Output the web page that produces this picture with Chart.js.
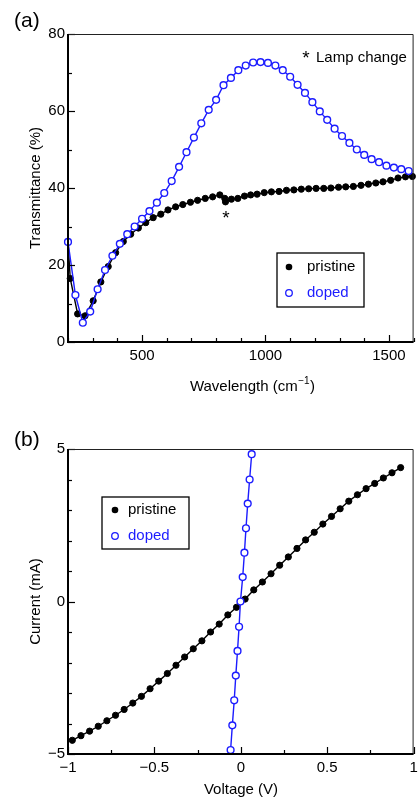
<!DOCTYPE html>
<html>
<head>
<meta charset="utf-8">
<script src="https://cdn.jsdelivr.net/npm/chart.js@4.4.1/dist/chart.umd.min.js"></script>
<style>
  html, body { margin: 0; padding: 0; background: #fff; }
  canvas { display: block; }
</style>
</head>
<body>
<canvas id="spectrum" width="419" height="400"></canvas>
<canvas id="iv" width="419" height="399"></canvas>
<script>
// ---- (a) transmittance spectra ----
const pristineWavelength = [200, 209, 239, 269, 302, 333, 363, 393, 424, 454, 485, 515, 545, 576, 605, 636, 665, 696, 725, 756,
  786, 815, 835, 838, 862, 888, 915, 940, 966, 995, 1024, 1055, 1085, 1115, 1145, 1175, 1205, 1236, 1265, 1296,
  1325, 1356, 1387, 1417, 1447, 1476, 1507, 1537, 1567, 1595];
const pristineTransmittance = [26.0, 16.5, 7.3, 6.8, 10.7, 15.6, 19.6, 23.2, 26.1, 28.0, 29.6, 31.0, 32.3, 33.2, 34.3, 35.1, 35.7, 36.3, 36.8, 37.3,
  37.7, 38.2, 37.3, 36.4, 37.1, 37.3, 37.9, 38.2, 38.4, 38.8, 39.0, 39.1, 39.4, 39.5, 39.7, 39.8, 39.9, 39.9, 40.0, 40.2,
  40.3, 40.4, 40.7, 41.0, 41.3, 41.6, 42.0, 42.6, 42.9, 43.0];

const dopedWavelength = [200, 230, 260, 290, 320, 350, 380, 410, 440, 470, 500, 530, 560, 590, 620, 650, 680, 710, 740, 770,
  800, 830, 860, 890, 920, 950, 980, 1010, 1040, 1070, 1100, 1130, 1160, 1190, 1220, 1250, 1280, 1310, 1340, 1370,
  1400, 1430, 1460, 1490, 1520, 1550, 1580];
const dopedTransmittance = [26.0, 12.2, 5.0, 7.9, 13.7, 18.7, 22.4, 25.5, 28.0, 30.0, 32.0, 34.0, 36.2, 38.7, 41.8, 45.5, 49.3, 53.1, 56.8, 60.3,
  62.9, 66.7, 68.6, 70.6, 71.8, 72.6, 72.7, 72.5, 71.8, 70.6, 68.9, 66.8, 64.7, 62.3, 59.9, 57.7, 55.4, 53.5, 51.7, 50.0,
  48.6, 47.5, 46.7, 45.8, 45.3, 44.9, 44.4];

const lampChangeAt = [840, 33.4];   // where the "*" marker sits
const spectrumXMajor = [500, 1000, 1500];
const spectrumYMajor = [0, 20, 40, 60, 80];

// ---- (b) current-voltage ----
const pristineVoltage = [-0.975, -0.925, -0.875, -0.825, -0.775, -0.725, -0.675, -0.625, -0.575, -0.525, -0.475, -0.425, -0.375,
  -0.325, -0.275, -0.225, -0.175, -0.125, -0.075, -0.025, 0.025, 0.075, 0.125, 0.175, 0.225, 0.275, 0.325,
  0.375, 0.425, 0.475, 0.525, 0.575, 0.625, 0.675, 0.725, 0.775, 0.825, 0.875, 0.925];
const pristineCurrent = [-4.55, -4.40, -4.25, -4.09, -3.91, -3.73, -3.54, -3.33, -3.11, -2.86, -2.61, -2.36, -2.09,
  -1.82, -1.55, -1.29, -1.00, -0.74, -0.44, -0.19, 0.08, 0.38, 0.64, 0.91, 1.19, 1.46, 1.74,
  2.02, 2.27, 2.54, 2.79, 3.04, 3.29, 3.50, 3.70, 3.87, 4.05, 4.22, 4.39];

const dopedVoltage = [-0.059, -0.049, -0.038, -0.029, -0.019, -0.010, -0.002, 0.011, 0.021, 0.030, 0.040, 0.051, 0.063];
const dopedCurrent = [-4.87, -4.06, -3.24, -2.43, -1.62, -0.83, 0.0, 0.80, 1.60, 2.40, 3.21, 4.00, 4.83];

const ivXMajor = [-1, -0.5, 0, 0.5, 1];
const ivYMajor = [-5, 0, 5];

const FONT = "'Liberation Sans', Arial, Helvetica, sans-serif";
const BLUE = '#1c1cff';
Chart.defaults.font.family = FONT;
Chart.defaults.font.size = 15;
Chart.defaults.color = '#000';

const pairs = (xs, ys) => xs.map((x, i) => ({ x, y: ys[i] }));
const fmt = majors => v => majors.includes(v) ? String(v).replace('-', '\u2212') : '';

function txt(ctx, s, x, y, o = {}) {
  ctx.save();
  ctx.font = `${o.size || 15}px ${FONT}`;
  ctx.fillStyle = o.color || '#000';
  ctx.textAlign = o.align || 'left';
  ctx.textBaseline = o.baseline || 'alphabetic';
  if (o.rotate) {
    ctx.translate(x, y);
    ctx.rotate(o.rotate);
    ctx.fillText(s, 0, 0);
  } else {
    ctx.fillText(s, x, y);
  }
  ctx.restore();
}

function drawLegend(ctx, box, sym, textX, rows) {
  ctx.save();
  ctx.fillStyle = '#fff';
  ctx.fillRect(box[0], box[1], box[2] - box[0], box[3] - box[1]);
  ctx.strokeStyle = '#000';
  ctx.lineWidth = 1.3;
  ctx.strokeRect(box[0], box[1], box[2] - box[0], box[3] - box[1]);
  rows.forEach(r => {
    ctx.beginPath();
    ctx.arc(sym, r.y, 3.3, 0, Math.PI * 2);
    if (r.filled) {
      ctx.fillStyle = '#000';
      ctx.fill();
    } else {
      ctx.fillStyle = '#fff';
      ctx.fill();
      ctx.strokeStyle = BLUE;
      ctx.lineWidth = 1.3;
      ctx.stroke();
    }
    txt(ctx, r.label, textX, r.y, { color: r.color, baseline: 'middle' });
  });
  ctx.restore();
}

// ticks point into the plot, frame drawn by hand
const frameTicks = {
  id: 'frameTicks',
  afterDatasetsDraw(chart, args, opts) {
    const { ctx, chartArea: a, scales: { x, y } } = chart;
    ctx.save();
    ctx.strokeStyle = '#000';
    ctx.lineWidth = 1.2;
    x.ticks.forEach(t => {
      const px = Math.round(x.getPixelForValue(t.value)) + 0.5;
      const len = opts.xMajor.includes(t.value) ? 7 : 4;
      ctx.beginPath();
      ctx.moveTo(px, a.bottom);
      ctx.lineTo(px, a.bottom - len);
      ctx.stroke();
    });
    y.ticks.forEach(t => {
      const py = Math.round(y.getPixelForValue(t.value)) + 0.5;
      const len = opts.yMajor.includes(t.value) ? 7 : 4;
      ctx.beginPath();
      ctx.moveTo(a.left, py);
      ctx.lineTo(a.left + len, py);
      ctx.stroke();
    });
    // top / right thin
    ctx.strokeStyle = '#222';
    ctx.lineWidth = 1;
    ctx.beginPath();
    ctx.moveTo(a.left, a.top + 0.5);
    ctx.lineTo(a.right - 0.5, a.top + 0.5);
    ctx.lineTo(a.right - 0.5, a.bottom);
    ctx.stroke();
    // left / bottom heavy
    ctx.strokeStyle = '#000';
    ctx.lineWidth = 2;
    ctx.beginPath();
    ctx.moveTo(a.left, a.top);
    ctx.lineTo(a.left, a.bottom);
    ctx.lineTo(a.right, a.bottom);
    ctx.stroke();
    ctx.restore();
  }
};

function baseOptions(xr, yr, xStep, yStep, xMajor, yMajor, padTop, xHeight) {
  return {
    responsive: false,
    animation: false,
    layout: { padding: { top: padTop, right: 1, left: 0, bottom: 0 } },
    plugins: {
      legend: { display: false },
      tooltip: { enabled: false },
      frameTicks: { xMajor, yMajor }
    },
    scales: {
      x: {
        type: 'linear', min: xr[0], max: xr[1],
        grid: { display: false, drawTicks: false },
        border: { display: false },
        ticks: { stepSize: xStep, autoSkip: false, maxRotation: 0, padding: 5, callback: fmt(xMajor) },
        afterFit: s => { s.height = xHeight; s.paddingLeft = 0; s.paddingRight = 0; }
      },
      y: {
        type: 'linear', min: yr[0], max: yr[1],
        grid: { display: false, drawTicks: false },
        border: { display: false },
        ticks: { stepSize: yStep, autoSkip: false, padding: 3, callback: fmt(yMajor) },
        afterFit: s => { s.width = 68; s.paddingTop = 0; s.paddingBottom = 0; }
      }
    }
  };
}

const dopedStyle = {
  showLine: true, borderColor: BLUE, borderWidth: 1.4, tension: 0,
  pointRadius: 3.4, pointBorderWidth: 1.4, pointBackgroundColor: '#fff', pointBorderColor: BLUE, clip: false
};
const pristineStyle = {
  showLine: true, borderColor: '#000', borderWidth: 1.4, tension: 0,
  pointRadius: 3.1, pointBorderWidth: 1, pointBackgroundColor: '#000', pointBorderColor: '#000', clip: false
};

// ---- chart (a) ----
new Chart(document.getElementById('spectrum'), {
  type: 'scatter',
  data: {
    datasets: [
      { label: 'doped', data: pairs(dopedWavelength, dopedTransmittance), ...dopedStyle },
      { label: 'pristine', data: pairs(pristineWavelength, pristineTransmittance), ...pristineStyle }
    ]
  },
  options: baseOptions([200, 1600], [0, 80], 100, 10, spectrumXMajor, spectrumYMajor, 34, 58),
  plugins: [frameTicks, {
    id: 'spectrumText',
    afterDraw(chart) {
      const { ctx, chartArea: a, scales: { x, y } } = chart;
      txt(ctx, '(a)', 14, 27, { size: 21 });
      txt(ctx, 'Transmittance (%)', 36, (a.top + a.bottom) / 2, { align: 'center', baseline: 'middle', rotate: -Math.PI / 2 });
      // x title with superscript
      ctx.save();
      ctx.font = `15px ${FONT}`;
      const w1 = ctx.measureText('Wavelength (cm').width;
      const w3 = ctx.measureText(')').width;
      ctx.font = `10px ${FONT}`;
      const w2 = ctx.measureText('\u22121').width;
      ctx.restore();
      const x0 = 252 - (w1 + w2 + w3) / 2;
      txt(ctx, 'Wavelength (cm', x0, 391);
      txt(ctx, '\u22121', x0 + w1 + 0.5, 384, { size: 10 });
      txt(ctx, ')', x0 + w1 + w2 + 1, 391);
      txt(ctx, '*', 306, 64, { size: 19, align: 'center' });
      txt(ctx, 'Lamp change', 316, 62);
      txt(ctx, '*', x.getPixelForValue(lampChangeAt[0]), y.getPixelForValue(lampChangeAt[1]) + 11, { size: 19, align: 'center' });
      drawLegend(ctx, [277, 253, 364, 307], 289, 307, [
        { y: 267, label: 'pristine', color: '#000', filled: true },
        { y: 293, label: 'doped', color: BLUE, filled: false }
      ]);
    }
  }]
});

// ---- chart (b) ----
new Chart(document.getElementById('iv'), {
  type: 'scatter',
  data: {
    datasets: [
      { label: 'doped', data: pairs(dopedVoltage, dopedCurrent), ...dopedStyle },
      { label: 'pristine', data: pairs(pristineVoltage, pristineCurrent), ...pristineStyle }
    ]
  },
  options: baseOptions([-1, 1], [-5, 5], 0.25, 1, ivXMajor, ivYMajor, 49, 45),
  plugins: [frameTicks, {
    id: 'ivText',
    afterDraw(chart) {
      const { ctx, chartArea: a } = chart;
      txt(ctx, '(b)', 14, 46, { size: 21 });
      txt(ctx, 'Current (mA)', 36, (a.top + a.bottom) / 2, { align: 'center', baseline: 'middle', rotate: -Math.PI / 2 });
      txt(ctx, 'Voltage (V)', 241, 394, { align: 'center' });
      drawLegend(ctx, [102, 97, 189, 149], 115, 128, [
        { y: 110, label: 'pristine', color: '#000', filled: true },
        { y: 136, label: 'doped', color: BLUE, filled: false }
      ]);
    }
  }]
});
</script>
</body>
</html>
